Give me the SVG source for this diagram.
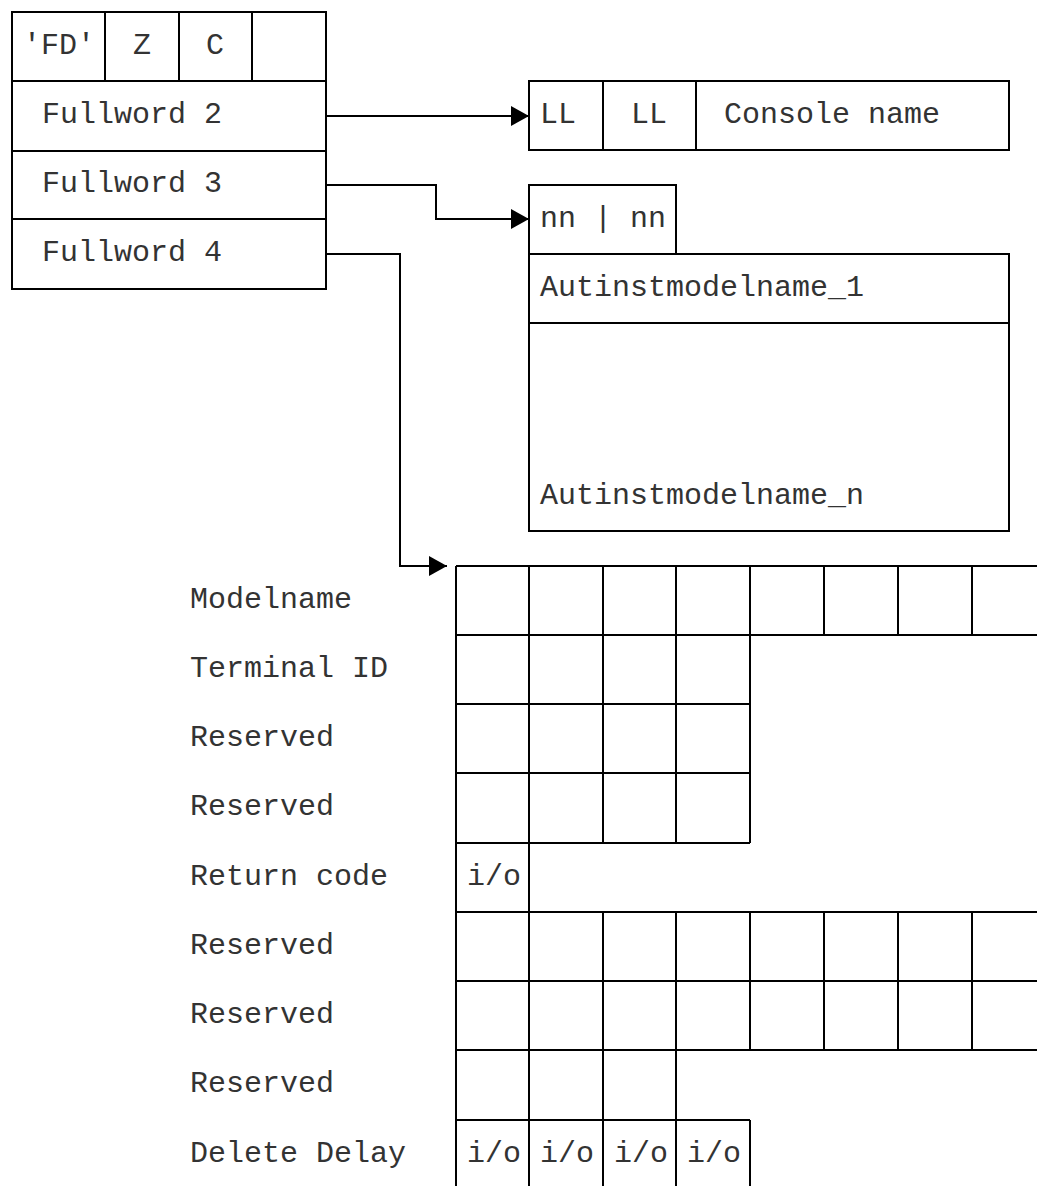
<svg xmlns="http://www.w3.org/2000/svg" width="1037" height="1186" viewBox="0 0 1037 1186">
<style>
.ln{fill:none;stroke:#000;stroke-width:2}
.t{font-family:"Liberation Mono","DejaVu Sans Mono",monospace;font-size:30px;fill:#333}
.c{text-anchor:middle}
</style>
<defs>
<marker id="ah" markerWidth="18" markerHeight="20" refX="18" refY="10" orient="auto" markerUnits="userSpaceOnUse">
<path d="M0,0 L18,10 L0,20 Z" fill="#000"/>
</marker>
</defs>
<rect width="1037" height="1186" fill="#fff"/>
<g id="parmlist">
<rect class="ln" x="12" y="12" width="314" height="277"/>
<path class="ln" d="M12,81H326M12,151H326M12,219H326M105,12V81M179,12V81M252,12V81"/>
<text class="t c" x="59" y="54">'FD'</text>
<text class="t c" x="142" y="54">Z</text>
<text class="t c" x="215" y="54">C</text>
<text class="t" x="42" y="123">Fullword 2</text>
<text class="t" x="42" y="192">Fullword 3</text>
<text class="t" x="42" y="261">Fullword 4</text>
</g>
<g id="console">
<rect class="ln" x="529" y="81" width="480" height="69"/>
<path class="ln" d="M603,81V150M696,81V150"/>
<text class="t" x="540" y="123">LL</text>
<text class="t c" x="649" y="123">LL</text>
<text class="t" x="724" y="123">Console name</text>
</g>
<g id="autinst">
<path class="ln" d="M529,254V185H676V254"/>
<rect class="ln" x="529" y="254" width="480" height="277"/>
<path class="ln" d="M529,323H1009"/>
<text class="t" x="540" y="227">nn | nn</text>
<text class="t" x="540" y="296">Autinstmodelname_1</text>
<text class="t" x="540" y="504">Autinstmodelname_n</text>
</g>
<g id="connectors">
<path class="ln" d="M326,116H529" marker-end="url(#ah)"/>
<path class="ln" d="M326,185H436V219H529" marker-end="url(#ah)"/>
<path class="ln" d="M326,254H400V566H447" marker-end="url(#ah)"/>
</g>
<g id="fields">
<path class="ln" d="M456,566H1037M456,635H1037M456,704H750M456,773H750M456,843H750M456,912H1037M456,981H1037M456,1050H1037M456,1120H750"/>
<path class="ln" d="M456,566V1186M529,566V1186M603,566V843M603,912V1186M676,566V843M676,912V1186M750,566V843M750,912V1050M750,1120V1186M824,566V635M824,912V1050M898,566V635M898,912V1050M972,566V635M972,912V1050"/>
<text class="t" x="190" y="608">Modelname</text>
<text class="t" x="190" y="677">Terminal ID</text>
<text class="t" x="190" y="746">Reserved</text>
<text class="t" x="190" y="815">Reserved</text>
<text class="t" x="190" y="885">Return code</text>
<text class="t" x="190" y="954">Reserved</text>
<text class="t" x="190" y="1023">Reserved</text>
<text class="t" x="190" y="1092">Reserved</text>
<text class="t" x="190" y="1162">Delete Delay</text>
<text class="t c" x="494" y="885">i/o</text>
<text class="t c" x="494" y="1162">i/o</text>
<text class="t c" x="567" y="1162">i/o</text>
<text class="t c" x="641" y="1162">i/o</text>
<text class="t c" x="714" y="1162">i/o</text>
</g>
</svg>
